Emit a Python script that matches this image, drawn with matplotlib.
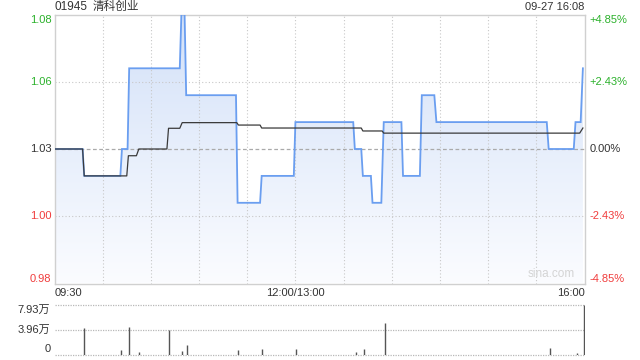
import numpy as np
import matplotlib
matplotlib.use("Agg")
import matplotlib.pyplot as plt
from matplotlib.colors import LinearSegmentedColormap

plt.rcParams['font.family'] = ['Liberation Sans', 'Noto Sans CJK SC', 'DejaVu Sans']

# ---------------- data ----------------
title_code = "01945"
title_name = "清科创业"
title_right = "09-27 16:08"
prev_close = 1.03

# minutes since 09:30 (lunch break removed), price vertices
price_t = [0, 17.5, 18.5, 41, 42, 45.5, 46.5, 78, 79, 81, 82, 113, 114, 128, 129,
           149, 150, 186, 187, 191, 192, 197, 198, 203.5, 205, 216, 217, 227.5,
           228.7, 236.5, 237.8, 306.5, 307.7, 323.3, 324.4, 327.6, 329]
price_v = [1.03, 1.03, 1.02, 1.02, 1.03, 1.03, 1.06, 1.06, 1.08, 1.08, 1.05, 1.05,
           1.01, 1.01, 1.02, 1.02, 1.04, 1.04, 1.03, 1.03, 1.02, 1.02, 1.01, 1.01,
           1.04, 1.04, 1.02, 1.02, 1.05, 1.05, 1.04, 1.04, 1.03, 1.03, 1.04, 1.04,
           1.06]

avg_t = [0, 17.5, 18.5, 45, 46, 51, 52.5, 70, 71, 78, 79.5, 113.5, 114.5, 128,
         129, 191, 192, 204, 205, 327, 329]
avg_v = [1.03, 1.03, 1.02, 1.02, 1.0275, 1.0275, 1.03, 1.03, 1.0377, 1.0377,
         1.0398, 1.0398, 1.0389, 1.0389, 1.0378, 1.0378, 1.0367, 1.0367, 1.0359,
         1.0359, 1.0378]

vol_t = [18.5, 41.5, 46.5, 52.5, 71.5, 79.5, 82.5, 114.5, 129.5, 150.5,
         187.5, 192.5, 205.5, 308.5, 325.5, 329.5]
vol_v = [4.23, 0.74, 4.44, 0.37, 3.92, 0.5, 1.5, 0.74, 0.9, 0.9,
         0.42, 0.96, 5.08, 1.0, 0.2, 7.93]   # 万

price_ticks = [0.98, 1.005, 1.03, 1.055, 1.08]
price_labels = ['0.98', '1.00', '1.03', '1.06', '1.08']
pct_labels = ['-4.85%', '-2.43%', '0.00%', '+2.43%', '+4.85%']
vol_ticks = [0, 3.96, 7.93]
vol_labels = ['0', '3.96万', '7.93万']
time_ticks = [0, 150, 330]
time_labels = ['09:30', '12:00/13:00', '16:00']

# ---------------- style ----------------
GREEN = '#2bb12b'
RED = '#f03c3c'
DARK = '#333333'
GRID = '#c8c8c8'
BLUE = '#6a9ef0'
FS = 8

fig = plt.figure(figsize=(6.4, 3.6), dpi=100)
W, H = 640, 360

def rect(l, t, r, b):
    return [l / W, 1 - b / H, (r - l) / W, (b - t) / H]

ax = fig.add_axes(rect(54.5, 14.5, 584.5, 283.5))
ymin, ymax = price_ticks[0], price_ticks[-1]
ax.set_xlim(0, 330)
ax.set_ylim(ymin, ymax)

# gradient fill under price
cmap = LinearSegmentedColormap.from_list('g', ['#fbfcff', '#d3e1f8'])
grad = np.linspace(0, 1, 256).reshape(-1, 1)
im = ax.imshow(grad, extent=[0, 330, ymin, ymax], origin='lower', aspect='auto',
               cmap=cmap, zorder=1, interpolation='bilinear')
poly = ax.fill_between(price_t, price_v, ymin, facecolor='none', edgecolor='none')
im.set_clip_path(poly.get_paths()[0], transform=ax.transData)

# grid
for x in range(30, 330, 30):
    ax.axvline(x, color=GRID, lw=0.8, ls=(0, (1, 2)), zorder=2)
for y in (price_ticks[1], price_ticks[3]):
    ax.axhline(y, color=GRID, lw=0.8, ls=(0, (1, 2)), zorder=2)
ax.axhline(prev_close, color='#aaaaaa', lw=0.9, ls=(0, (3, 2)), zorder=2)

ax.plot(price_t, price_v, color=BLUE, lw=1.3, zorder=4, solid_joinstyle='miter')
ax.plot(avg_t, avg_v, color='#3a3a3a', lw=0.9, zorder=5)

for s in ax.spines.values():
    s.set_color('#d0d0d0')
    s.set_linewidth(1.0)
ax.set_xticks([])
ax.set_yticks([])

ytr = ax.get_yaxis_transform()
for i, (v, lab, pl) in enumerate(zip(price_ticks, price_labels, pct_labels)):
    va = 'bottom' if i == 0 else ('top' if i == len(price_ticks) - 1 else 'center')
    col = RED if v < prev_close else (GREEN if v > prev_close else DARK)
    ax.text(-0.006, v, lab, transform=ytr, ha='right', va=va, fontsize=FS, color=col)
    ax.text(1.01, v, pl, transform=ytr, ha='left', va=va, fontsize=FS, color=col)

xtr = ax.get_xaxis_transform()
for v, lab, ha in zip(time_ticks, time_labels, ['left', 'center', 'right']):
    ax.text(v, -0.018, lab, transform=xtr, ha=ha, va='top', fontsize=FS, color=DARK)

TY = 1.028
ax.text(0, TY, title_code, transform=ax.transAxes, ha='left', va='center',
        fontsize=8.5, color=DARK)
ax.text(0.072, TY, title_name, transform=ax.transAxes, ha='left', va='center',
        fontsize=8.4, color=DARK)
ax.text(1, TY, title_right, transform=ax.transAxes, ha='right', va='center',
        fontsize=FS, color=DARK)
ax.text(0.982, 0.012, 'sina.com', transform=ax.transAxes, ha='right', va='bottom',
        fontsize=8.5, color='#d4d4d4', zorder=6)

# ---------------- volume ----------------
vx = fig.add_axes(rect(54.5, 305, 584.5, 354.5))
vx.set_xlim(0, 330)
vx.set_ylim(0, vol_ticks[-1])
for s in vx.spines.values():
    s.set_visible(False)
vx.set_xticks([])
vx.set_yticks([])
for y in vol_ticks:
    vx.axhline(y, color='#b8b8b8', lw=0.9, ls=(0, (1, 1)), zorder=1, clip_on=False)
vx.vlines(vol_t, 0, vol_v, color='#555555', lw=1.0, zorder=3)
vtr = vx.get_yaxis_transform()
for i, (v, lab) in enumerate(zip(vol_ticks, vol_labels)):
    va = 'bottom' if i == 0 else ('top' if i == len(vol_ticks) - 1 else 'center')
    vx.text(-0.008, v, lab, transform=vtr, ha='right', va=va, fontsize=FS, color=DARK)

fig.savefig('out.png', dpi=100)
